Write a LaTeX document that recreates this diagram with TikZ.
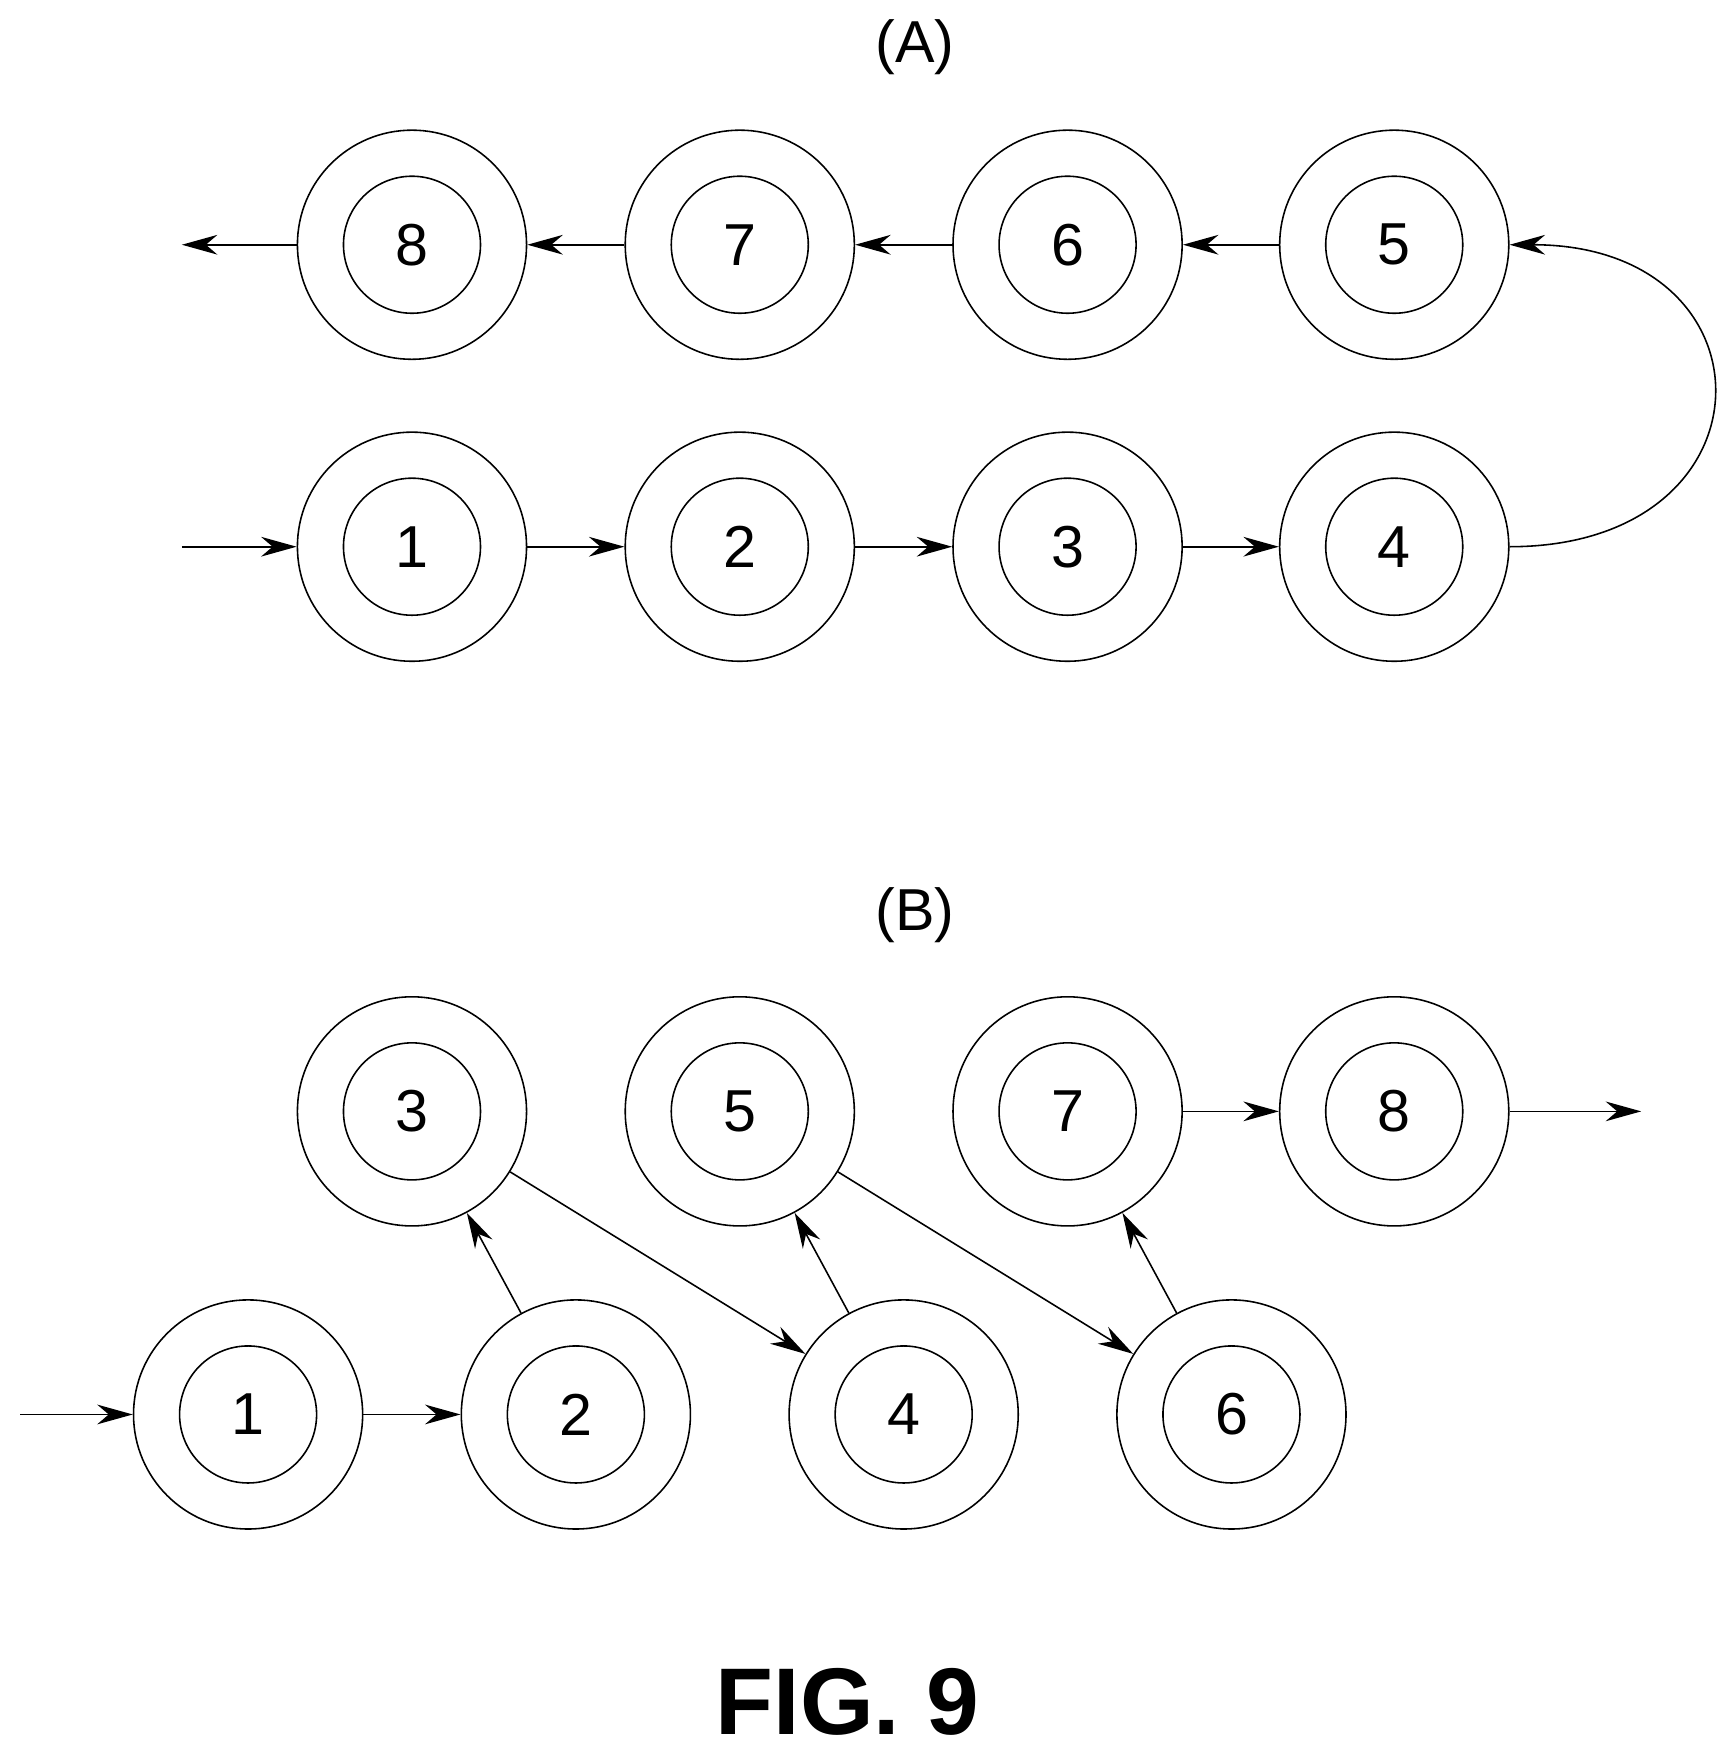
\documentclass[tikz,border=0pt]{standalone}
\usepackage{fontspec}
\setmainfont{Liberation Sans}
\usetikzlibrary{arrows.meta}
\tikzset{
  ring/.style={draw,circle,minimum size=2.04cm,inner sep=0pt,font=\fontsize{15}{15}\selectfont,
    path picture={\draw (path picture bounding box.center) circle (0.61cm);}},
  flow/.style={-{Stealth[length=9pt,width=5pt]},thin}
}
\begin{document}
\begin{tikzpicture}[x=0.01cm,y=-0.01cm]
            \useasboundingbox (0,0) rectangle (1546,1550);
            % (A)
            \node[font=\fontsize{15}{15}\selectfont] (ta) at (815,42) {(A)};
            \foreach \n/\x in {1/367,2/659,3/951,4/1242} \node[ring] (a\n) at (\x,487) {\n};
            \foreach \n/\x in {5/1242,6/951,7/659,8/367} \node[ring] (a\n) at (\x,218) {\n};
            \coordinate (ain) at (162,487);
            \coordinate (aout) at (162,218);
            \draw[flow] (ain) -- (a1);
            \foreach \i/\j in {1/2,2/3,3/4,5/6,6/7,7/8} \draw[flow] (a\i) -- (a\j);
            \draw[flow] (a8) -- (aout);
            \draw[flow] (a4.east) to[out=0,in=0,looseness=2.3] (a5.east);
            % (B)
            \node[font=\fontsize{15}{15}\selectfont] (tb) at (815,815) {(B)};
            \foreach \n/\x in {1/221,2/513,4/805,6/1097} \node[ring] (b\n) at (\x,1260) {\n};
            \foreach \n/\x in {3/367,5/659,7/951,8/1242} \node[ring] (b\n) at (\x,990) {\n};
            \coordinate (bin) at (18,1260);
            \coordinate (bout) at (1462,990);
            \draw[flow] (bin) -- (b1);
            \foreach \i/\j in {1/2,2/3,3/4,4/5,5/6,6/7,7/8} \draw[flow] (b\i) -- (b\j);
            \draw[flow] (b8) -- (bout);
            \node[font=\bfseries\fontsize{24}{24}\selectfont,anchor=base] (fig) at (755,1545) {FIG. 9};
\end{tikzpicture}
\end{document}
